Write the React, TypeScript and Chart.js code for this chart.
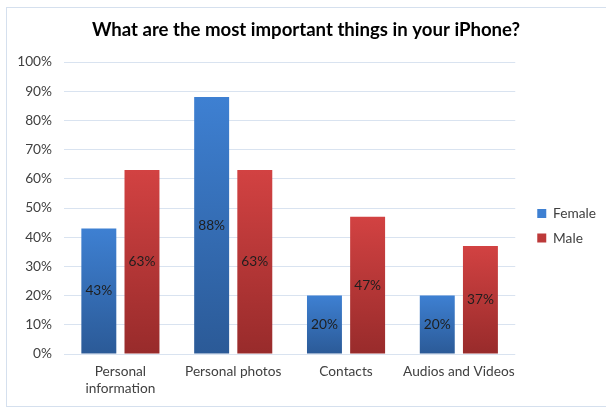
import React, { useEffect, useRef } from "react";
import { Chart, registerables } from "chart.js";

Chart.register(...registerables);

const title = "What are the most important things in your iPhone?";
const categories: (string | string[])[] = [["Personal", "information"], "Personal photos", "Contacts", "Audios and Videos"];
const femaleValues = [43, 88, 20, 20];
const maleValues = [63, 63, 47, 37];
const yTicks = [0, 10, 20, 30, 40, 50, 60, 70, 80, 90, 100];

const FONT = "Lato, 'Open Sans', sans-serif";
const FS = 13.7;

function gradientFill(top: string, bottom: string, solid: string) {
  return (ctx: any) => {
    if (ctx.type !== "data") return solid;
    const chart = ctx.chart;
    const y = chart.scales && chart.scales.y;
    if (!y || !chart.chartArea) return solid;
    const t = y.getPixelForValue(ctx.raw);
    const b = y.getPixelForValue(0);
    if (!isFinite(t) || !isFinite(b) || t === b) return solid;
    const g = chart.ctx.createLinearGradient(0, t, 0, b);
    g.addColorStop(0, top);
    g.addColorStop(1, bottom);
    return g;
  };
}

const valueLabels = {
  id: "valueLabels",
  afterDatasetsDraw(chart: any) {
    const c = chart.ctx;
    c.save();
    c.font = `${FS}px ${FONT}`;
    c.fillStyle = "#1e1e1e";
    c.textAlign = "center";
    c.textBaseline = "middle";
    chart.data.datasets.forEach((ds: any, i: number) => {
      const meta = chart.getDatasetMeta(i);
      meta.data.forEach((el: any, j: number) => {
        const yMid = (el.y + el.base) / 2;
        c.fillText(ds.data[j] + "%", el.x, yMid);
      });
    });
    c.restore();
  },
};

const frame = {
  id: "frame",
  beforeDraw(chart: any) {
    const c = chart.ctx;
    c.save();
    c.fillStyle = "#ffffff";
    c.fillRect(0, 0, chart.width, chart.height);
    c.strokeStyle = "#d5e0ee";
    c.lineWidth = 1;
    c.strokeRect(6.5, 7.5, chart.width + 10, chart.height - 8);
    c.restore();
  },
};

export default function App() {
  const ref = useRef<HTMLCanvasElement>(null);
  useEffect(() => {
    if (!ref.current) return;
    const chart = new Chart(ref.current, {
      type: "bar",
      data: {
        labels: categories,
        datasets: [
          {
            label: "Female",
            data: femaleValues,
            backgroundColor: gradientFill("#3e80d2", "#2b5a97", "#3a78c4"),
            categoryPercentage: 0.765,
            barPercentage: 0.81,
          },
          {
            label: "Male",
            data: maleValues,
            backgroundColor: gradientFill("#d24242", "#982b2b", "#c43c3c"),
            categoryPercentage: 0.765,
            barPercentage: 0.81,
          },
        ],
      },
      options: {
        animation: false,
        responsive: false,
        maintainAspectRatio: false,
        layout: { padding: { left: 6, right: 0, top: 10, bottom: 9.5 } },
        plugins: {
          title: {
            display: true,
            text: title,
            color: "#000000",
            font: { family: FONT, size: 18.6, weight: "bold", lineHeight: 1.2 },
            padding: { top: 9, bottom: 20.7 },
          },
          legend: {
            position: "right",
            title: {
              display: true,
              text: " ",
              font: { size: 10, lineHeight: 1 },
              padding: { top: 34, bottom: 0 },
            },
            labels: {
              boxWidth: 9,
              boxHeight: 9,
              color: "#404040",
              font: { family: FONT, size: FS },
              padding: 11,
            },
          },
          tooltip: { enabled: false },
        },
        scales: {
          x: {
            grid: { display: false, drawTicks: false },
            border: { display: false },
            afterFit: (axis: any) => {
              axis.height = 43.5;
            },
            ticks: {
              color: "#404040",
              font: { family: FONT, size: FS, lineHeight: 1.24 },
              maxRotation: 0,
              autoSkip: false,
              padding: 9.5,
            },
          },
          y: {
            min: 0,
            max: 100,
            afterBuildTicks: (axis: any) => {
              axis.ticks = yTicks.map((v) => ({ value: v }));
            },
            afterFit: (axis: any) => {
              axis.width = 58;
            },
            grid: { color: "#d9e3f0", drawTicks: false },
            border: { display: false },
            ticks: {
              color: "#404040",
              font: { family: FONT, size: FS },
              padding: 12,
              callback: (v: any) => v + "%",
            },
          },
          gap: {
            type: "linear",
            position: "right",
            display: true,
            grid: { display: false, drawTicks: false },
            border: { display: false },
            ticks: { display: false },
            afterFit: (axis: any) => {
              axis.width = 11;
            },
          },
        },
      },
      plugins: [frame, valueLabels],
    });
    return () => chart.destroy();
  }, []);
  return (
    <div style={{ position: "fixed", left: 0, top: 0, width: 606, height: 407 }}>
      <canvas ref={ref} width={606} height={407} style={{ display: "block" }} />
    </div>
  );
}
